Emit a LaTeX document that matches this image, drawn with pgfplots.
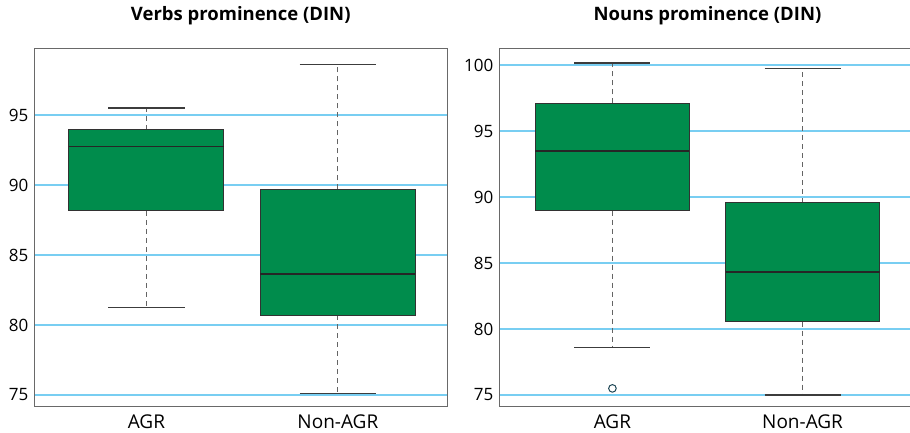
\documentclass[border=0pt]{standalone}
\usepackage{pgfplots}
\pgfplotsset{compat=1.18}
\usepackage{fontspec}
\setmainfont{Open Sans}
\definecolor{dingreen}{RGB}{0,140,76}
\definecolor{gridblue}{RGB}{120,206,242}
\definecolor{framegray}{RGB}{105,105,105}
\definecolor{whiskgray}{RGB}{100,100,100}
\definecolor{capgray}{RGB}{60,60,60}
\definecolor{boxborder}{RGB}{50,50,50}
\definecolor{outl}{RGB}{30,70,85}
\pgfplotsset{
  dinbox/.style={
    scale only axis,
    height=358pt,
    xtick={1,2}, xticklabels={AGR,Non-AGR},
    major tick length=0pt,
    tick style={draw=none},
    ymajorgrids,
    grid style={draw=gridblue, line width=1.25pt},
    major grid style={draw=gridblue, line width=1.25pt},
    axis line style={framegray, line width=1pt},
    /pgf/number format/assume math mode=true,
    xticklabel style={font=\fontsize{19}{22}\selectfont, anchor=base, inner sep=0pt, yshift=-21.6pt},
    yticklabel style={font=\fontsize{17}{20}\selectfont, anchor=east, inner sep=0pt, xshift=-6pt},
    title style={font=\fontsize{18.5}{22}\selectfont\bfseries, at={(0.5,1)}, anchor=base, yshift=21.6pt},
  },
  bx/.style={draw=boxborder, fill=dingreen, line width=1pt},
  md/.style={black!85, line width=1.8pt},
  wh/.style={whiskgray, line width=1.1pt, dash pattern=on 5pt off 4pt},
  cp/.style={capgray, line width=1.1pt},
}
\begin{document}
\begin{tikzpicture}
\path[use as bounding box] (0,0) rectangle (910pt,432pt);
\begin{axis}[dinbox, at={(34.5pt,25.5pt)}, anchor=south west, width=412.5pt,
  xmin=0.4157, xmax=2.570, ymin=74.1786, ymax=99.75, ytick={75,80,85,90,95},
  title={Verbs prominence (DIN)}]
% AGR: lower whisker 81.26, Q1 88.15, median 92.75, Q3 93.93, upper whisker 95.5
\addplot[wh] coordinates {(1,88.15) (1,81.26)};
\addplot[wh] coordinates {(1,93.93) (1,95.5)};
\addplot[cp] coordinates {(0.8,81.26) (1.2,81.26)};
\addplot[cp] coordinates {(0.8,95.5) (1.2,95.5)};
\addplot[bx] coordinates {(0.595,88.15) (1.405,88.15) (1.405,93.93) (0.595,93.93)} -- cycle;
\addplot[md] coordinates {(0.595,92.75) (1.405,92.75)};
% Non-AGR: lower whisker 75.11, Q1 80.69, median 83.65, Q3 89.69, upper whisker 98.58
\addplot[wh] coordinates {(2,80.69) (2,75.11)};
\addplot[wh] coordinates {(2,89.69) (2,98.58)};
\addplot[cp] coordinates {(1.8,75.11) (2.2,75.11)};
\addplot[cp] coordinates {(1.8,98.58) (2.2,98.58)};
\addplot[bx] coordinates {(1.595,80.69) (2.405,80.69) (2.405,89.69) (1.595,89.69)} -- cycle;
\addplot[md] coordinates {(1.595,83.65) (2.405,83.65)};
\end{axis}
\begin{axis}[dinbox, at={(499.5pt,25.5pt)}, anchor=south west, width=416pt,
  xmin=0.406, xmax=2.594, ymin=74.1288, ymax=101.25, ytick={75,80,85,90,95,100},
  title={Nouns prominence (DIN)}]
% AGR: lower whisker 78.63, Q1 88.97, median 93.5, Q3 97.09, upper whisker 100.15, outlier 75.5
\addplot[wh] coordinates {(1,88.97) (1,78.63)};
\addplot[wh] coordinates {(1,97.09) (1,100.15)};
\addplot[cp] coordinates {(0.8,78.63) (1.2,78.63)};
\addplot[cp] coordinates {(0.8,100.15) (1.2,100.15)};
\addplot[bx] coordinates {(0.595,88.97) (1.405,88.97) (1.405,97.09) (0.595,97.09)} -- cycle;
\addplot[md] coordinates {(0.595,93.5) (1.405,93.5)};
\addplot[only marks, mark=*, mark size=3.8pt, mark options={draw=outl, fill=white, line width=1pt}] coordinates {(1,75.5)};
% Non-AGR: lower whisker 75.0, Q1 80.55, median 84.29, Q3 89.57, upper whisker 99.73
\addplot[wh] coordinates {(2,80.55) (2,75.0)};
\addplot[wh] coordinates {(2,89.57) (2,99.73)};
\addplot[cp] coordinates {(1.8,75.0) (2.2,75.0)};
\addplot[cp] coordinates {(1.8,99.73) (2.2,99.73)};
\addplot[bx] coordinates {(1.595,80.55) (2.405,80.55) (2.405,89.57) (1.595,89.57)} -- cycle;
\addplot[md] coordinates {(1.595,84.29) (2.405,84.29)};
\end{axis}
\end{tikzpicture}
\end{document}
